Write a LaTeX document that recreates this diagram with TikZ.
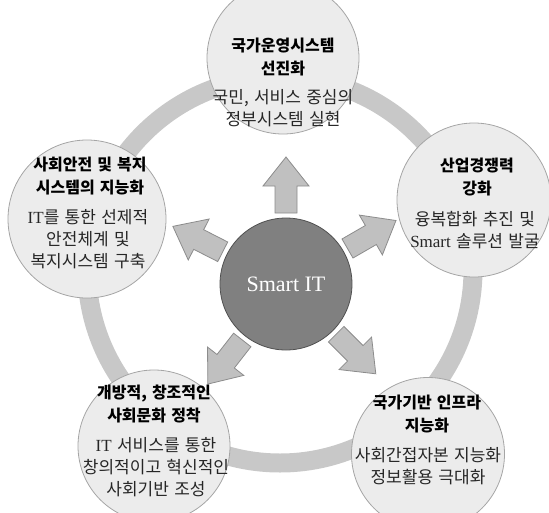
\documentclass[tikz,border=0pt]{standalone}
\usepackage{fontspec}
\setmainfont{Liberation Serif}
\newfontfamily\kr{Noto Sans CJK KR}
\newfontfamily\krd[WordSpace=1.4]{Noto Sans CJK KR}
\definecolor{ringgray}{RGB}{200,200,200}
\definecolor{arrowfill}{RGB}{192,192,192}
\definecolor{arrowline}{RGB}{140,140,140}
\definecolor{outerfill}{RGB}{236,236,236}
\definecolor{outerline}{RGB}{165,165,165}
\definecolor{hubfill}{RGB}{128,128,128}
\definecolor{hubline}{RGB}{80,80,80}
\begin{document}
\begin{tikzpicture}[x=1pt,y=-1pt,
  ring/.style={draw=ringgray,line width=19pt},
  outer/.style={circle,draw=outerline,fill=outerfill,line width=0.8pt,inner sep=0pt},
  hub/.style={circle,draw=hubline,fill=hubfill,line width=0.8pt,inner sep=0pt,minimum size=132pt,text=white,font=\fontsize{22}{24}\selectfont},
  blk/.style={draw=arrowline,fill=arrowfill,line width=0.8pt,line join=miter},
  ttl/.style={align=center,inner sep=0pt,font=\kr\bfseries\fontsize{16}{23}\selectfont},
  dsc/.style={align=center,inner sep=0pt,text=black!85,font=\krd\fontsize{17}{22}\selectfont}]
\useasboundingbox (0,0) rectangle (549,512);
\clip (0,0) rectangle (549,512);
\draw[ring] (280,270) circle[radius=193];
% outer circles
\node[outer,minimum size=152pt] (ctop) at (283,58) {};
\node[outer,minimum size=154pt] (cright) at (474,200) {};
\node[outer,minimum size=158pt] (cleft) at (87,219) {};
\node[outer,minimum size=152pt] (cbl) at (154,446) {};
\node[outer,minimum size=153pt] (cbr) at (428,454) {};
% hub
\node[hub] (hub) at (286,284) {Smart IT};
% block arrows
\foreach \a in {90,30,-45,-128,153}{
  \draw[blk,shift={(hub.center)},rotate=\a]
    (71,-11) -- (98,-11) -- (98,-23) -- (127,0) -- (98,23) -- (98,11) -- (71,11) -- cycle;
}
% texts
\node[ttl] (t1) at (283,57) {국가운영시스템\\선진화};
\node[dsc] (d1) at (283,108) {국민, 서비스 중심의\\정부시스템 실현};
\node[ttl] (t2) at (477,177) {산업경쟁력\\강화};
\node[dsc] (d2) at (475,230) {융복합화 추진 및\\{\rmfamily Smart} 솔루션 발굴};
\node[ttl] (t3) at (90,176) {사회안전 및 복지\\시스템의 지능화};
\node[dsc] (d3) at (88,239) {{\rmfamily IT}를 통한 선제적\\안전체계 및\\복지시스템 구축};
\node[ttl] (t4) at (154,404) {개방적, 창조적인\\사회문화 정착};
\node[dsc] (d4) at (156,467) {{\rmfamily IT} 서비스를 통한\\창의적이고 혁신적인\\사회기반 조성};
\node[ttl] (t5) at (427,414) {국가기반 인프라\\지능화};
\node[dsc] (d5) at (428,466) {사회간접자본 지능화\\정보활용 극대화};
\end{tikzpicture}
\end{document}
